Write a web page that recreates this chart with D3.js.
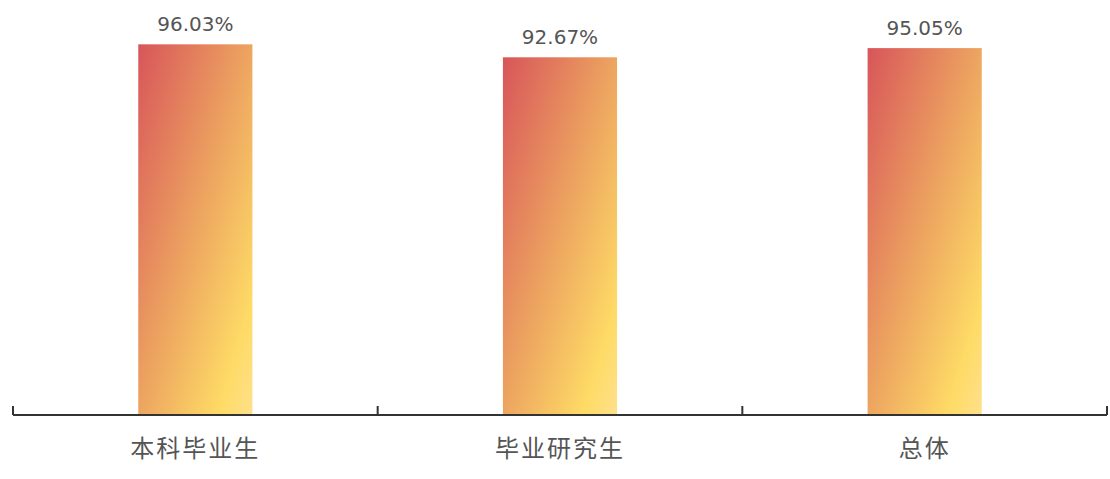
<!DOCTYPE html>
<html>
<head>
<meta charset="utf-8">
<script src="https://cdn.jsdelivr.net/npm/d3@7"></script>
<style>
  body { margin: 0; background: #fff; }
</style>
</head>
<body>
<div id="chart"></div>
<script>
// chart data
var categories = ['本科毕业生', '毕业研究生', '总体'];
var values = [96.03, 92.67, 95.05];

var width = 1110, height = 479;
var margin = { top: 29, right: 3, bottom: 64, left: 13 };

var svg = d3.select('#chart')
    .append('svg')
    .attr('width', width)
    .attr('height', height);

// diagonal gradient, red top-left to yellow bottom-right
var grad = svg.append('defs').append('linearGradient')
    .attr('id', 'barGrad')
    .attr('x1', '0').attr('y1', '0')
    .attr('x2', '1').attr('y2', '1');
grad.append('stop').attr('offset', '0%').attr('stop-color', '#d8555a');
grad.append('stop').attr('offset', '50%').attr('stop-color', '#eda560');
grad.append('stop').attr('offset', '85%').attr('stop-color', '#fedb66');
grad.append('stop').attr('offset', '100%').attr('stop-color', '#ffe08c');

var x = d3.scaleBand()
    .domain(categories)
    .range([margin.left, width - margin.right])
    .padding(0);

var y = d3.scaleLinear()
    .domain([0, 100])
    .range([height - margin.bottom, margin.top]);

var barWidth = x.bandwidth() * 0.313;

// bars
svg.selectAll('rect.bar')
    .data(values)
    .enter()
    .append('rect')
    .attr('class', 'bar')
    .attr('x', function (d, i) { return x(categories[i]) + x.bandwidth() / 2 - barWidth / 2; })
    .attr('y', function (d) { return y(d); })
    .attr('width', barWidth)
    .attr('height', function (d) { return y(0) - y(d); })
    .style('fill', 'url(#barGrad)');

// value labels
svg.selectAll('text.val')
    .data(values)
    .enter()
    .append('text')
    .attr('class', 'val')
    .attr('x', function (d, i) { return x(categories[i]) + x.bandwidth() / 2; })
    .attr('y', function (d) { return y(d) - 13; })
    .attr('text-anchor', 'middle')
    .style('font-family', '"DejaVu Sans", sans-serif')
    .style('font-size', '20px')
    .style('fill', '#555')
    .text(function (d) { return d.toFixed(2) + '%'; });

// x axis with band boundary ticks
var axisY = y(0);
var g = svg.append('g');
g.append('line')
    .attr('x1', margin.left).attr('x2', width - margin.right)
    .attr('y1', axisY).attr('y2', axisY)
    .attr('stroke', '#333')
    .attr('stroke-width', 2);

var edges = categories.map(function (c) { return x(c); }).concat([x.range()[1]]);
g.selectAll('line.tick')
    .data(edges)
    .enter()
    .append('line')
    .attr('x1', function (d) { return d; })
    .attr('x2', function (d) { return d; })
    .attr('y1', axisY)
    .attr('y2', axisY - 9)
    .attr('stroke', '#333')
    .attr('stroke-width', 2);

g.selectAll('text.cat')
    .data(categories)
    .enter()
    .append('text')
    .attr('class', 'cat')
    .attr('x', function (d) { return x(d) + x.bandwidth() / 2; })
    .attr('y', axisY + 42)
    .attr('text-anchor', 'middle')
    .style('font-family', '"Noto Sans CJK SC", sans-serif')
    .style('font-size', '24px')
    .style('letter-spacing', '2px')
    .style('fill', '#555')
    .text(function (d) { return d; });
</script>
</body>
</html>
